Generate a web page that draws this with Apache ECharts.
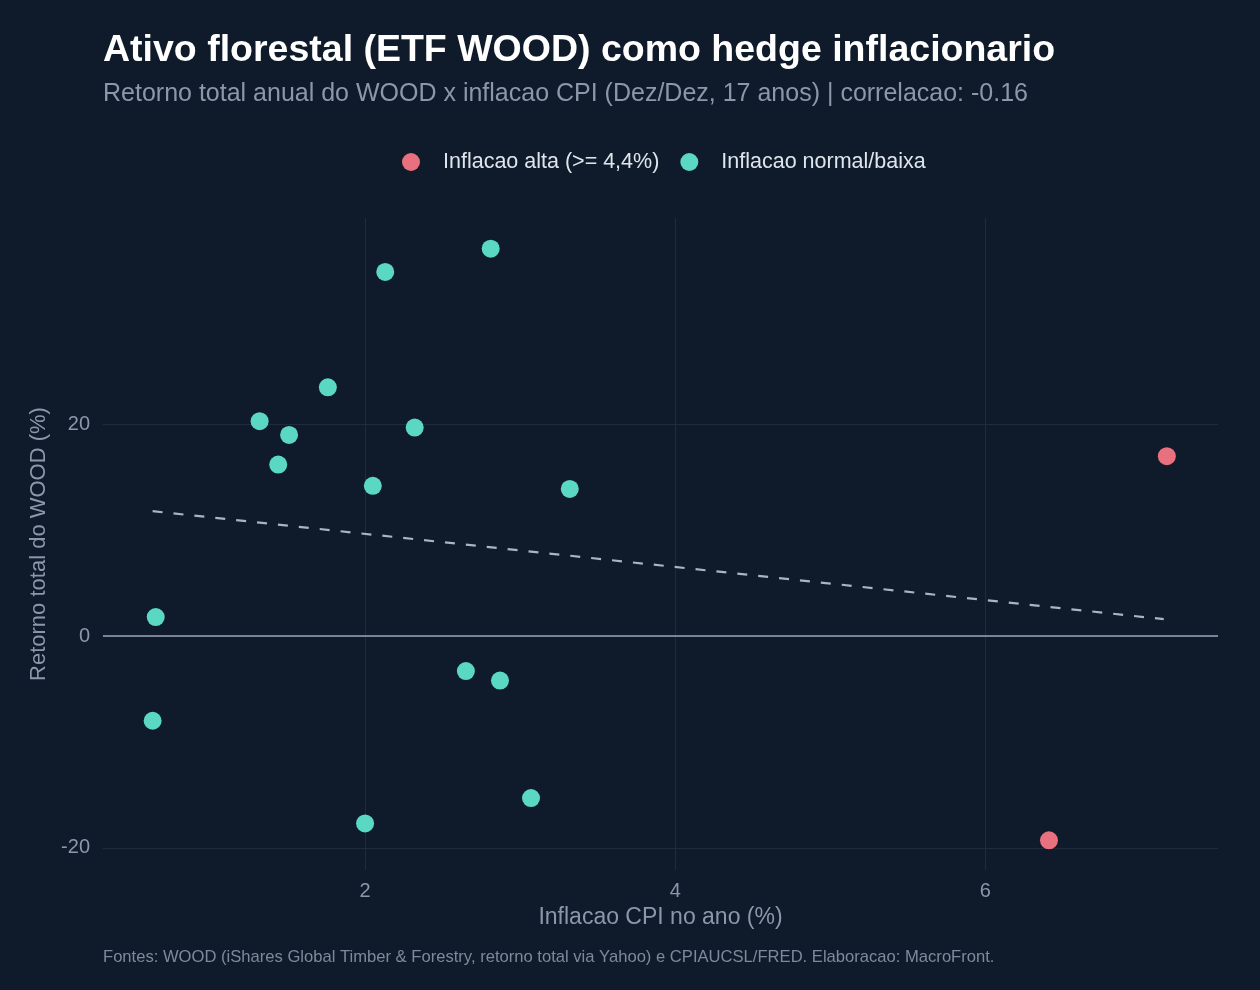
<!DOCTYPE html>
<html>
<head>
<meta charset="utf-8">
<script src="https://cdn.jsdelivr.net/npm/echarts@6/dist/echarts.min.js"></script>
<style>
  html, body { margin: 0; padding: 0; background: #0f1b2a; }
  #chart { width: 1260px; height: 990px; }
</style>
</head>
<body>
<div id="chart"></div>
<script>
// inflacao CPI (%) x retorno total WOOD (%)
const altaPoints = [[7.17, 17.0], [6.41, -19.3]];
const normalPoints = [
  [0.65, 1.8], [0.63, -8.0], [1.32, 20.3], [1.44, 16.2], [1.51, 19.0],
  [1.76, 23.5], [2.13, 34.4], [2.05, 14.2], [2.32, 19.7], [2.00, -17.7],
  [2.81, 36.6], [2.65, -3.3], [2.87, -4.2], [3.32, 13.9], [3.07, -15.3]
];
const trendPoints = [[0.63, 11.8], [7.15, 1.6]];
const xTicks = [2, 4, 6];
const yTicks = [-20, 0, 20];

const font = 'Liberation Sans';
const chart = echarts.init(document.getElementById('chart'), null, { renderer: 'canvas' });

chart.setOption({
  backgroundColor: '#0f1b2a',
  textStyle: { fontFamily: font },
  title: [
    {
      text: 'Ativo florestal (ETF WOOD) como hedge inflacionario',
      left: 98, top: 27,
      textStyle: { color: '#ffffff', fontSize: 37.5, fontWeight: 'bold', fontFamily: font }
    },
    {
      text: 'Retorno total anual do WOOD x inflacao CPI (Dez/Dez, 17 anos) | correlacao: -0.16',
      left: 98, top: 77,
      textStyle: { color: '#8b98ab', fontSize: 25, fontWeight: 'normal', fontFamily: font }
    },
    {
      text: 'Fontes: WOOD (iShares Global Timber & Forestry, retorno total via Yahoo) e CPIAUCSL/FRED. Elaboracao: MacroFront.',
      left: 98, top: 944,
      textStyle: { color: '#7d8a9c', fontSize: 16.6, fontWeight: 'normal', fontFamily: font }
    }
  ],
  legend: {
    top: 146, left: 397,
    icon: 'circle', itemWidth: 18, itemHeight: 18, itemGap: 21,
    textStyle: { color: '#dfe5ec', fontSize: 21.5, fontFamily: font, padding: [0, 0, 0, 18] },
    data: ['Inflacao alta (>= 4,4%)', 'Inflacao normal/baixa']
  },
  grid: { left: 103, right: 42, top: 218, bottom: 120, containLabel: false },
  xAxis: {
    type: 'value', min: 0.31, max: 7.5,
    name: 'Inflacao CPI no ano (%)', nameLocation: 'middle', nameGap: 36,
    nameTextStyle: { color: '#8b98ab', fontSize: 23, fontFamily: font },
    axisLine: { show: false },
    axisTick: { show: false, customValues: xTicks },
    axisLabel: { customValues: xTicks, color: '#8b98ab', fontSize: 20, margin: 11 },
    splitLine: { show: true, lineStyle: { color: '#1f2c3c', width: 1 } }
  },
  yAxis: {
    type: 'value', min: -22.1, max: 39.5,
    name: 'Retorno total do WOOD (%)', nameLocation: 'middle', nameGap: 47,
    nameTextStyle: { color: '#8b98ab', fontSize: 22, fontFamily: font },
    axisLine: { show: false },
    axisTick: { show: false, customValues: yTicks },
    axisLabel: { customValues: yTicks, color: '#8b98ab', fontSize: 20, margin: 13 },
    splitLine: { show: true, lineStyle: { color: '#1f2c3c', width: 1 } }
  },
  series: [
    {
      name: 'tendencia', type: 'line', data: trendPoints,
      symbol: 'none', silent: true, z: 3,
      lineStyle: { color: '#a9b4c6', width: 2.2, type: [10, 11] },
      markLine: {
        silent: true, symbol: 'none', label: { show: false },
        lineStyle: { color: '#9aa5b8', width: 1.5, type: 'solid' },
        data: [{ yAxis: 0 }]
      }
    },
    {
      name: 'Inflacao alta (>= 4,4%)', type: 'scatter', data: altaPoints,
      symbolSize: 18, z: 4,
      itemStyle: { color: '#e8707f', opacity: 1 }
    },
    {
      name: 'Inflacao normal/baixa', type: 'scatter', data: normalPoints,
      symbolSize: 18, z: 4,
      itemStyle: { color: '#5ad8c3', opacity: 1 }
    }
  ]
});
</script>
</body>
</html>
